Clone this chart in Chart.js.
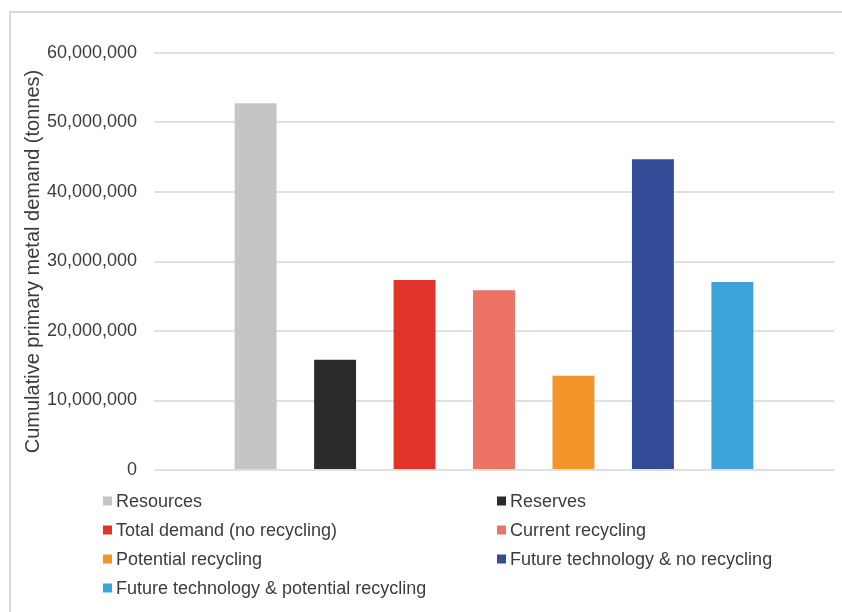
<!DOCTYPE html>
<html>
<head>
<meta charset="utf-8">
<script src="https://cdn.jsdelivr.net/npm/chart.js@4/dist/chart.umd.min.js"></script>
<style>
  html, body { margin: 0; padding: 0; background: #ffffff; }
  #wrap { position: relative; width: 842px; height: 612px; overflow: hidden; }
  canvas { display: block; }
</style>
</head>
<body>
<div id="wrap"><canvas id="c" width="842" height="612"></canvas></div>
<script>
const categories = [''];
const seriesNames = [
  'Resources',
  'Reserves',
  'Total demand (no recycling)',
  'Current recycling',
  'Potential recycling',
  'Future technology & no recycling',
  'Future technology & potential recycling'
];
const seriesValues = [52900000, 16000000, 27500000, 26000000, 13700000, 44850000, 27200000];
const seriesColors = ['#c6c5c4', '#2b2b2b', '#e2332b', '#ec7366', '#f3952b', '#344b97', '#3ba3da'];
const yTickMin = 0;
const yTickMax = 60000000;
const yTickStep = 10000000;
const yTitle = 'Cumulative primary metal demand (tonnes)';

const FONT = '"Liberation Sans", Arial, sans-serif';
const TEXT = '#3c3c3c';

const framePlugin = {
  id: 'frame',
  beforeDraw(chart) {
    const ctx = chart.ctx;
    ctx.save();
    ctx.fillStyle = '#ffffff';
    ctx.fillRect(0, 0, chart.width, chart.height);
    ctx.strokeStyle = '#d9d9d9';
    ctx.lineWidth = 2;
    ctx.strokeRect(10, 12, 1000, 1000);
    ctx.restore();
  }
};

const legendPlugin = {
  id: 'twoColLegend',
  afterDraw(chart) {
    const ctx = chart.ctx;
    const colX = [103, 497];
    const rowY0 = 501;
    const rowStep = 29;
    const box = 9;
    ctx.save();
    ctx.font = '18px ' + FONT;
    ctx.textBaseline = 'middle';
    ctx.textAlign = 'left';
    chart.data.datasets.forEach((ds, i) => {
      const col = i % 2;
      const row = Math.floor(i / 2);
      const x = colX[col];
      const y = rowY0 + row * rowStep;
      ctx.fillStyle = ds.backgroundColor;
      ctx.fillRect(x, y - box / 2, box, box);
      ctx.fillStyle = TEXT;
      ctx.fillText(ds.label, x + box + 4, y + 1);
    });
    ctx.restore();
  }
};

const datasets = seriesNames.map((name, i) => ({
  label: name,
  data: [seriesValues[i]],
  backgroundColor: seriesColors[i],
  borderColor: 'rgba(255,255,255,0.35)',
  borderWidth: 1,
  categoryPercentage: 0.818,
  barPercentage: 0.553
}));

new Chart(document.getElementById('c'), {
  type: 'bar',
  data: { labels: categories, datasets },
  options: {
    responsive: false,
    animation: false,
    devicePixelRatio: 1,
    layout: { padding: { top: 53, bottom: 142, left: 0, right: 8 } },
    plugins: {
      legend: { display: false },
      tooltip: { enabled: false },
      title: { display: false }
    },
    scales: {
      x: {
        display: false
      },
      y: {
        min: yTickMin,
        max: yTickMax,
        ticks: {
          stepSize: yTickStep,
          padding: 17,
          color: TEXT,
          font: { family: FONT, size: 18 },
          callback: v => Number(v).toLocaleString('en-US')
        },
        grid: { color: '#e0e0e0', lineWidth: 2, drawTicks: false },
        border: { display: false },
        title: {
          display: true,
          text: yTitle,
          color: TEXT,
          font: { family: FONT, size: 20 },
          padding: { top: 21, bottom: 0 }
        },
        afterFit(scale) { scale.width = 154; }
      }
    }
  },
  plugins: [framePlugin, legendPlugin]
});
</script>
</body>
</html>
